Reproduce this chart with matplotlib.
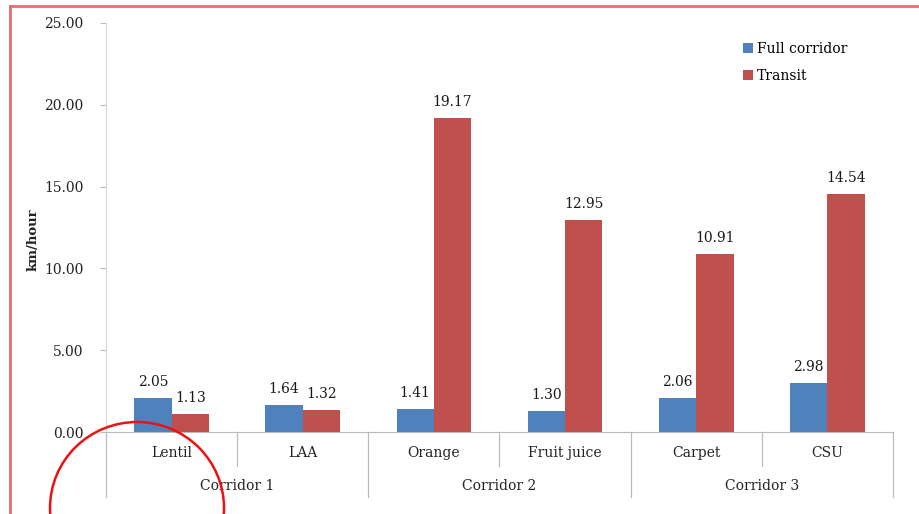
import matplotlib.pyplot as plt
import numpy as np
from matplotlib.patches import Ellipse
from matplotlib.lines import Line2D

products = ["Lentil", "LAA", "Orange", "Fruit juice", "Carpet", "CSU"]
corridors = ["Corridor 1", "Corridor 2", "Corridor 3"]
full_corridor = [2.05, 1.64, 1.41, 1.30, 2.06, 2.98]
transit = [1.13, 1.32, 19.17, 12.95, 10.91, 14.54]
y_ticks = [0, 5, 10, 15, 20, 25]

plt.rcParams["font.family"] = ["DejaVu Serif"]

W, H = 919, 514
fig = plt.figure(figsize=(W / 100, H / 100), dpi=100)
ax = fig.add_axes([106 / W, (H - 432) / H, (893 - 106) / W, (432 - 23) / H])

x = np.arange(len(products))
bw = 0.285
blue, red = "#4f81bd", "#c0504d"
b1 = ax.bar(x - bw / 2, full_corridor, bw, color=blue, label="Full corridor")
b2 = ax.bar(x + bw / 2, transit, bw, color=red, label="Transit")
for bars in (b1, b2):
    for r in bars:
        ax.text(r.get_x() + r.get_width() / 2, r.get_height() + 0.55, "%.2f" % r.get_height(),
                ha="center", va="bottom", fontsize=10, color="#1a1a1a")

ax.set_xlim(-0.5, len(products) - 0.5)
ax.set_ylim(0, 25)
ax.set_yticks(y_ticks)
ax.set_yticklabels(["%.2f" % v for v in y_ticks], fontsize=10, color="#222222")
ax.tick_params(axis="y", length=4, color="#bbbbbb", pad=12)
ax.set_xticks([])
for s in ("top", "right"):
    ax.spines[s].set_visible(False)
ax.spines["left"].set_color("#d9d9d9")
ax.spines["bottom"].set_color("#bbbbbb")
ax.set_ylabel("km/hour", fontsize=9.5, fontweight="bold", color="#222222")
ax.yaxis.set_label_coords(-0.084, 0.47)

tr = ax.get_xaxis_transform()
for i, p in enumerate(products):
    ax.text(i, -0.052, p, transform=tr, ha="center", va="center", fontsize=10, color="#222222")
for i in range(len(products) + 1):
    long = i % 2 == 0
    ax.add_line(Line2D([i - 0.5, i - 0.5], [0, -0.16 if long else -0.082], transform=tr,
                       color="#bbbbbb", lw=0.9, clip_on=False))
for j, c in enumerate(corridors):
    ax.text(2 * j + 0.5, -0.132, c, transform=tr, ha="center", va="center", fontsize=10, color="#222222")

ax.legend(loc="upper left", bbox_to_anchor=(0.794, 0.985), frameon=False, fontsize=10,
          handlelength=0.7, handleheight=0.7, handletextpad=0.3, labelspacing=0.95)

# overlay: slide border and hand-drawn circle
ov = fig.add_axes([0, 0, 1, 1], facecolor="none")
ov.set_xlim(0, W)
ov.set_ylim(H, 0)
ov.axis("off")
ov.plot([9.5, 9.5], [6, H], color="#e86c6c", lw=2)
ov.plot([9.5, W], [6, 6], color="#e86c6c", lw=2)
ov.add_patch(Ellipse((137, 508), 174, 172, fill=False, edgecolor="#ee1111", lw=1.8))

fig.savefig("out.png", dpi=100)
